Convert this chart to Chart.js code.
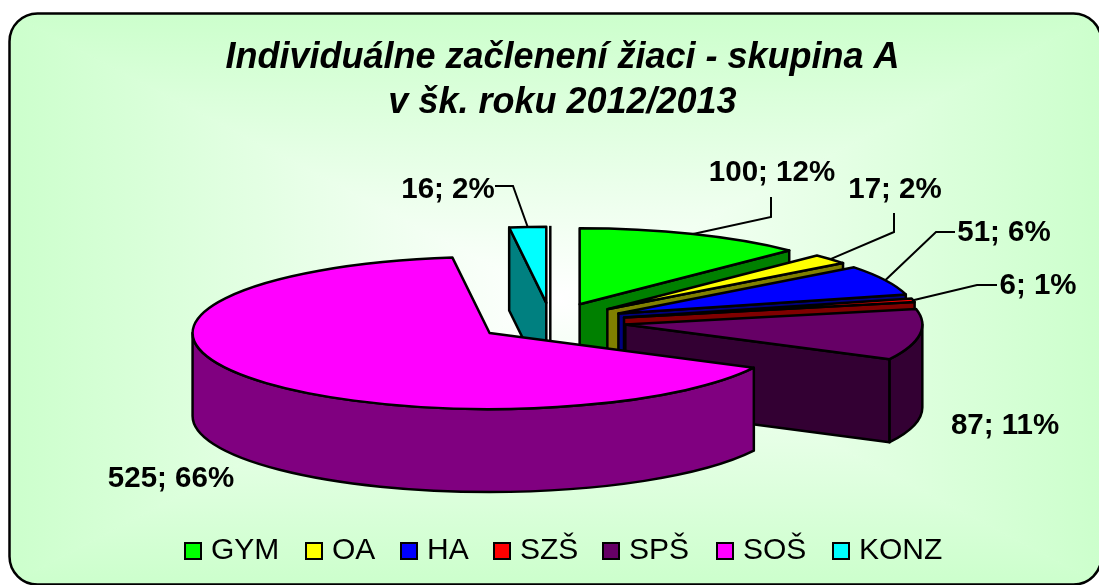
<!DOCTYPE html>
<html><head><meta charset="utf-8">
<style>html,body{margin:0;padding:0;background:#fff}canvas{display:block}</style>
<script src="https://cdn.jsdelivr.net/npm/chart.js@4"></script>
</head><body><canvas id="c" width="1099" height="585"></canvas>
<script>
const categories = ['GYM','OA','HA','SZŠ','SPŠ','SOŠ','KONZ'];
const values = [100,17,51,6,87,525,16];
const percents = [12,2,6,1,11,66,2];
const topColors = ['#00ff00','#ffff00','#0000ff','#ff0000','#660066','#ff00ff','#00ffff'];
const wallColors = ['#008000','#808000','#000080','#800000','#330033','#800080','#008080'];
const paintOrder = [6,0,1,2,3,4,5];
const titleLines = ['Individuálne začlenení žiaci - skupina A','v šk. roku 2012/2013'];

const view = {cx:551, cy:322, rx:297, ry:76, depth:83, explode:75};
const labelLayout = [
 {x:772, y:173, line:[[771,197],[771,217]]},
 {x:895, y:190, line:[[894,213],[894,232]]},
 {x:1004,y:233, line:[[955,232],[936,232]]},
 {x:1038,y:286, line:[[997,285],[977,285]]},
 {x:1005,y:426, line:null},
 {x:171, y:479, line:null},
 {x:448, y:190, line:[[495,186],[513,186]]}
];
const legendX = [184,305,400,493,602,716,832];
const legendY = 551;

const frame = {x:9.5,y:13.5,w:1092,h:571,r:28};

const backdrop = {
 id:'backdrop',
 beforeDraw(chart){
  const c = chart.ctx, f = frame;
  const mx = f.x+f.w/2, my = f.y+f.h/2;
  c.save();
  c.beginPath(); c.roundRect(f.x,f.y,f.w,f.h,f.r); c.clip();
  const edge='#ccffcc', mid='#ffffff';
  const tris=[
   [[f.x,f.y],[f.x+f.w,f.y],[mx,my],mx,f.y],
   [[f.x+f.w,f.y],[f.x+f.w,f.y+f.h],[mx,my],f.x+f.w,my],
   [[f.x+f.w,f.y+f.h],[f.x,f.y+f.h],[mx,my],mx,f.y+f.h],
   [[f.x,f.y+f.h],[f.x,f.y],[mx,my],f.x,my]
  ];
  tris.forEach(t=>{
   const g=c.createLinearGradient(mx,my,t[3],t[4]);
   g.addColorStop(0,mid); g.addColorStop(1,edge);
   c.fillStyle=g; c.beginPath();
   c.moveTo(t[0][0],t[0][1]); c.lineTo(t[1][0],t[1][1]); c.lineTo(t[2][0],t[2][1]); c.closePath();
   c.fill(); c.strokeStyle=g; c.lineWidth=1; c.stroke();
  });
  c.restore();
  c.beginPath(); c.roundRect(f.x,f.y,f.w,f.h,f.r);
  c.strokeStyle='#000'; c.lineWidth=2.5; c.stroke();
 }
};

function sliceGeom(arc){
 const p = arc.getProps(['startAngle','endAngle'],true);
 const a=p.startAngle, b=p.endAngle, m=(a+b)/2;
 const ox=view.cx+view.explode*Math.cos(m);
 const oy=view.cy+view.explode*(view.ry/view.rx)*Math.sin(m);
 return {a,b,m,ox,oy,pt:t=>[ox+view.rx*Math.cos(t),oy+view.ry*Math.sin(t)]};
}

const pie3d = {
 id:'pie3d',
 beforeDatasetDraw(chart){
  const c=chart.ctx, arcs=chart.getDatasetMeta(0).data, d=view.depth;
  c.save(); c.lineWidth=2.5; c.strokeStyle='#000'; c.lineJoin='round';
  paintOrder.forEach(i=>{
   const g=sliceGeom(arcs[i]);
   c.fillStyle=wallColors[i];
   const cut=(t)=>{const q=g.pt(t);
    c.beginPath(); c.moveTo(g.ox,g.oy); c.lineTo(q[0],q[1]); c.lineTo(q[0],q[1]+d); c.lineTo(g.ox,g.oy+d); c.closePath(); c.fill(); c.stroke();};
   if(Math.cos(g.a)<-1e-9) cut(g.a);
   if(Math.cos(g.b)>1e-9) cut(g.b);
   const w0=Math.max(g.a,0), w1=Math.min(g.b,Math.PI);
   if(w1>w0){
    c.beginPath();
    c.ellipse(g.ox,g.oy,view.rx,view.ry,0,w0,w1);
    c.ellipse(g.ox,g.oy+d,view.rx,view.ry,0,w1,w0,true);
    c.closePath(); c.fill(); c.stroke();
   }
   c.fillStyle=topColors[i];
   c.beginPath(); c.moveTo(g.ox,g.oy);
   c.ellipse(g.ox,g.oy,view.rx,view.ry,0,g.a,g.b);
   c.closePath(); c.fill(); c.stroke();
   if(i===6){ // thin black edge beside the last slice, as in the source
    c.beginPath(); c.moveTo(g.ox+4,g.oy-77); c.lineTo(g.ox+4,g.oy+38); c.stroke();
   }
  });
  c.restore();
  return false;
 },
 afterDatasetsDraw(chart){
  const c=chart.ctx, arcs=chart.getDatasetMeta(0).data;
  c.save();
  c.font='bold 29.5px "Liberation Sans"'; c.fillStyle='#000'; c.textAlign='center'; c.textBaseline='middle';
  c.strokeStyle='#000'; c.lineWidth=2;
  labelLayout.forEach((l,i)=>{
   if(l.line){
    const g=sliceGeom(arcs[i]), e=g.pt(g.m);
    c.beginPath(); c.moveTo(l.line[0][0],l.line[0][1]); c.lineTo(l.line[1][0],l.line[1][1]); c.lineTo(e[0],e[1]); c.stroke();
   }
   c.fillText(values[i]+'; '+percents[i]+'%',l.x,l.y);
  });
  // legend
  c.font='30px "Liberation Sans"'; c.textAlign='left';
  categories.forEach((name,i)=>{
   c.fillStyle=topColors[i]; c.strokeStyle='#000'; c.lineWidth=2;
   c.beginPath(); c.rect(legendX[i]+1,legendY-8,16,16); c.fill(); c.stroke();
   c.fillStyle='#000';
   c.fillText(name,legendX[i]+27,legendY);
  });
  c.restore();
 }
};

new Chart(document.getElementById('c'),{
 type:'pie',
 data:{labels:categories,datasets:[{data:values,backgroundColor:topColors,borderColor:'#000',borderWidth:2}]},
 options:{
  responsive:false,animation:false,
  layout:{padding:{left:26,right:0,top:0,bottom:12}},
  plugins:{
   tooltip:{enabled:false},
   title:{display:true,text:titleLines,color:'#000',
    font:{family:'"Liberation Sans"',size:36,weight:'bold',style:'italic',lineHeight:1.25},
    padding:{top:36,bottom:10}},
   legend:{display:false}
  }
 },
 plugins:[backdrop,pie3d]
});
</script></body></html>
